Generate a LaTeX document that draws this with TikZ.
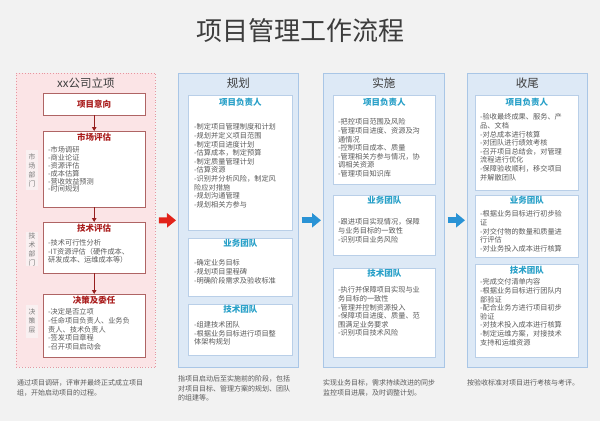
\documentclass[tikz,border=0pt]{standalone}
\usepackage{fontspec}
\setmainfont{Noto Sans CJK SC}
\usepackage{tikz}
\usetikzlibrary{arrows.meta, positioning, calc, shadows}
\definecolor{pageBg}{RGB}{242, 242, 242}
\definecolor{titleFg}{RGB}{60, 60, 60}
\definecolor{bodyFg}{RGB}{90, 90, 90}
\definecolor{pinkColBg}{RGB}{251, 228, 230}
\definecolor{pinkColLine}{RGB}{230, 150, 160}
\definecolor{pinkBoxLine}{RGB}{175, 100, 100}
\definecolor{pinkHeadFg}{RGB}{170, 30, 30}
\definecolor{pinkArrow}{RGB}{150, 30, 30}
\definecolor{sideBg}{RGB}{249, 240, 241}
\definecolor{sideFg}{RGB}{120, 120, 120}
\definecolor{blueColBg}{RGB}{221, 233, 246}
\definecolor{blueColLine}{RGB}{169, 198, 230}
\definecolor{blueBoxLine}{RGB}{185, 207, 232}
\definecolor{blueHeadFg}{RGB}{40, 160, 200}
\definecolor{blueArrow}{RGB}{42, 147, 213}
\definecolor{redArrow}{RGB}{226, 35, 26}
\tikzstyle{arrow} = [line width=1pt, draw=pinkArrow, -{Triangle[length=4pt,width=4.5pt]}]
\tikzstyle{bigarrow} = [line width=6pt, shorten <=3pt, shorten >=2pt, -{Triangle[length=9pt,width=14pt]}]
\tikzstyle{colbox} = [rectangle, anchor=north west, inner sep=0pt]
\tikzstyle{pinkcol} = [colbox, draw=pinkColLine, line width=0.8pt, dotted, fill=pinkColBg]
\tikzstyle{bluecol} = [colbox, draw=blueColLine, line width=0.6pt, fill=blueColBg]
\tikzstyle{pinkbox} = [rectangle, anchor=north west, draw=pinkBoxLine, line width=0.4pt, fill=white, drop shadow={opacity=0.2, shadow xshift=0.8pt, shadow yshift=-0.8pt}]
\tikzstyle{bluebox} = [rectangle, anchor=north west, draw=blueBoxLine, line width=0.8pt, fill=white, drop shadow={opacity=0.15, shadow xshift=0.8pt, shadow yshift=-0.8pt}]
\tikzstyle{coltitle} = [font=\fontsize{11.5}{12}\selectfont, text=titleFg]
\tikzstyle{pinkhead} = [font=\bfseries\fontsize{8.5}{9}\selectfont, text=pinkHeadFg]
\tikzstyle{bluehead} = [font=\bfseries\fontsize{8.5}{9}\selectfont, text=blueHeadFg]
\tikzstyle{bodytext} = [anchor=north west, inner sep=0pt, align=left, font=\fontsize{7.2}{8.6}\selectfont, text=bodyFg]
\tikzstyle{captext} = [bodytext, font=\fontsize{7}{9.5}\selectfont]
\tikzstyle{sidelabel} = [rectangle, fill=sideBg, minimum width=12pt, inner sep=0pt, align=center, font=\fontsize{6.8}{9}\selectfont, text=sideFg]

\begin{document}
\begin{tikzpicture}[x=1pt, y=-1pt]

\fill [pageBg] (0,0) rectangle (600,421);
\useasboundingbox (0,0) rectangle (600,421);

\node (title) [font=\fontsize{26}{28}\selectfont, text=titleFg] at (300,31) {项目管理工作流程};

% columns
\node (start) [pinkcol, minimum width=139pt, minimum height=294pt] at (16,73) {};
\node (plan) [bluecol, minimum width=120pt, minimum height=294pt] at (178,73) {};
\node (impl) [bluecol, minimum width=121pt, minimum height=294pt] at (323,73) {};
\node (close) [bluecol, minimum width=120pt, minimum height=294pt] at (467,73) {};

\node (startT) [coltitle, yshift=-10pt] at (start.north) {xx公司立项};
\node (planT) [coltitle, yshift=-10pt] at (plan.north) {规划};
\node (implT) [coltitle, yshift=-10pt] at (impl.north) {实施};
\node (closeT) [coltitle, yshift=-10pt] at (close.north) {收尾};

% xx公司立项
\node (intent) [pinkbox, pinkhead, minimum width=102pt, minimum height=22pt] at (43,93) {项目意向};

\node (mkt) [pinkbox, minimum width=102pt, minimum height=76pt] at (43,131) {};
\node (mktT) [pinkhead, yshift=-6pt] at (mkt.north) {市场评估};
\node (mktL) [bodytext, font=\fontsize{7.2}{7.8}\selectfont] at (48,146.5) {-市场调研\\-商业论证\\-资源评估\\-成本估算\\-营收效益预测\\-时间规划};
\node (mktD) [sidelabel, minimum height=40pt] at (32,170) {市\\场\\部\\门};

\node (tech) [pinkbox, minimum width=102pt, minimum height=51pt] at (43,222) {};
\node (techT) [pinkhead, yshift=-6pt] at (tech.north) {技术评估};
\node (techL) [bodytext] at (48,239.5) {-技术可行性分析\\-IT资源评估（硬件成本、\\研发成本、运维成本等）};
\node (techD) [sidelabel, minimum height=34pt] at (32,249) {技\\术\\部\\门};

\node (dec) [pinkbox, minimum width=102pt, minimum height=63pt] at (43,294) {};
\node (decT) [pinkhead, yshift=-6pt] at (dec.north) {决策及委任};
\node (decL) [bodytext] at (48,308.5) {-决定是否立项\\-任命项目负责人、业务负\\责人、技术负责人\\-签发项目章程\\-召开项目启动会};
\node (decD) [sidelabel, minimum height=33pt] at (32,321) {决\\策\\层};

\draw [arrow] (intent) -- (mkt);
\draw [arrow] (mkt) -- (tech);
\draw [arrow] (tech) -- (dec);

% 规划
\node (planPM) [bluebox, minimum width=104pt, minimum height=135pt] at (188,95) {};
\node (planPMT) [bluehead, yshift=-7pt] at (planPM.north) {项目负责人};
\node (planPML) [bodytext] at (194,123.5) {-制定项目管理制度和计划\\-规划并定义项目范围\\-制定项目进度计划\\-估算成本，制定预算\\-制定质量管理计划\\-估算资源\\-识别并分析风险，制定风\\险应对措施\\-规划沟通管理\\-规划相关方参与};

\node (planBiz) [bluebox, minimum width=104pt, minimum height=58pt] at (188,238) {};
\node (planBizT) [bluehead, yshift=-5pt] at (planBiz.north) {业务团队};
\node (planBizL) [bodytext] at (194,259.5) {-确定业务目标\\-规划项目里程碑\\-明确阶段需求及验收标准};

\node (planTech) [bluebox, minimum width=104pt, minimum height=51pt] at (188,304) {};
\node (planTechT) [bluehead, yshift=-5pt] at (planTech.north) {技术团队};
\node (planTechL) [bodytext] at (194,321.5) {-组建技术团队\\-根据业务目标进行项目整\\体架构规划};

% 实施
\node (implPM) [bluebox, minimum width=102pt, minimum height=89pt] at (333,95) {};
\node (implPMT) [bluehead, yshift=-7pt] at (implPM.north) {项目负责人};
\node (implPML) [bodytext] at (338,118.5) {-把控项目范围及风险\\-管理项目进度、资源及沟\\通情况\\-控制项目成本、质量\\-管理相关方参与情况，协\\调相关资源\\-管理项目知识库};

\node (implBiz) [bluebox, minimum width=102pt, minimum height=60pt] at (333,195) {};
\node (implBizT) [bluehead, yshift=-5pt] at (implBiz.north) {业务团队};
\node (implBizL) [bodytext] at (338,218.5) {-跟进项目实现情况，保障\\与业务目标的一致性\\-识别项目业务风险};

\node (implTech) [bluebox, minimum width=102pt, minimum height=89pt] at (333,268) {};
\node (implTechT) [bluehead, yshift=-5pt] at (implTech.north) {技术团队};
\node (implTechL) [bodytext] at (338,286.5) {-执行并保障项目实现与业\\务目标的一致性\\-管理并控制资源投入\\-保障项目进度、质量、范\\围满足业务要求\\-识别项目技术风险};

% 收尾
\node (closePM) [bluebox, minimum width=103pt, minimum height=95pt] at (475,95) {};
\node (closePMT) [bluehead, yshift=-7pt] at (closePM.north) {项目负责人};
\node (closePML) [bodytext] at (480,113.5) {-验收最终成果、服务、产\\品、文档\\-对总成本进行核算\\-对团队进行绩效考核\\-召开项目总结会，对管理\\流程进行优化\\-保障验收顺利，移交项目\\并解散团队};

\node (closeBiz) [bluebox, minimum width=103pt, minimum height=62pt] at (475,195) {};
\node (closeBizT) [bluehead, yshift=-5pt] at (closeBiz.north) {业务团队};
\node (closeBizL) [bodytext] at (480,210.5) {-根据业务目标进行初步验\\证\\-对交付物的数量和质量进\\行评估\\-对业务投入成本进行核算};

\node (closeTech) [bluebox, minimum width=103pt, minimum height=93pt] at (475,264) {};
\node (closeTechT) [bluehead, yshift=-6pt] at (closeTech.north) {技术团队};
\node (closeTechL) [bodytext] at (480,278.5) {-完成交付清单内容\\-根据业务目标进行团队内\\部验证\\-配合业务方进行项目初步\\验证\\-对技术投入成本进行核算\\-制定运维方案，对接技术\\支持和运维资源};

% phase arrows
\draw [bigarrow, draw=redArrow] (start) -- (plan);
\draw [bigarrow, draw=blueArrow] (plan) -- (impl);
\draw [bigarrow, draw=blueArrow] (impl) -- (close);

% captions
\node (startC) [captext] at (17,379.5) {通过项目调研，评审并最终正式成立项目\\组，开始启动项目的过程。};
\node (planC) [captext] at (178,375.5) {指项目启动后至实施前的阶段，包括\\对项目目标、管理方案的规划、团队\\的组建等。};
\node (implC) [captext] at (323,379.5) {实现业务目标，需求持续改进的同步\\监控项目进展，及时调整计划。};
\node (closeC) [captext] at (467,379.5) {按验收标准对项目进行考核与考评。};

\end{tikzpicture}
\end{document}
